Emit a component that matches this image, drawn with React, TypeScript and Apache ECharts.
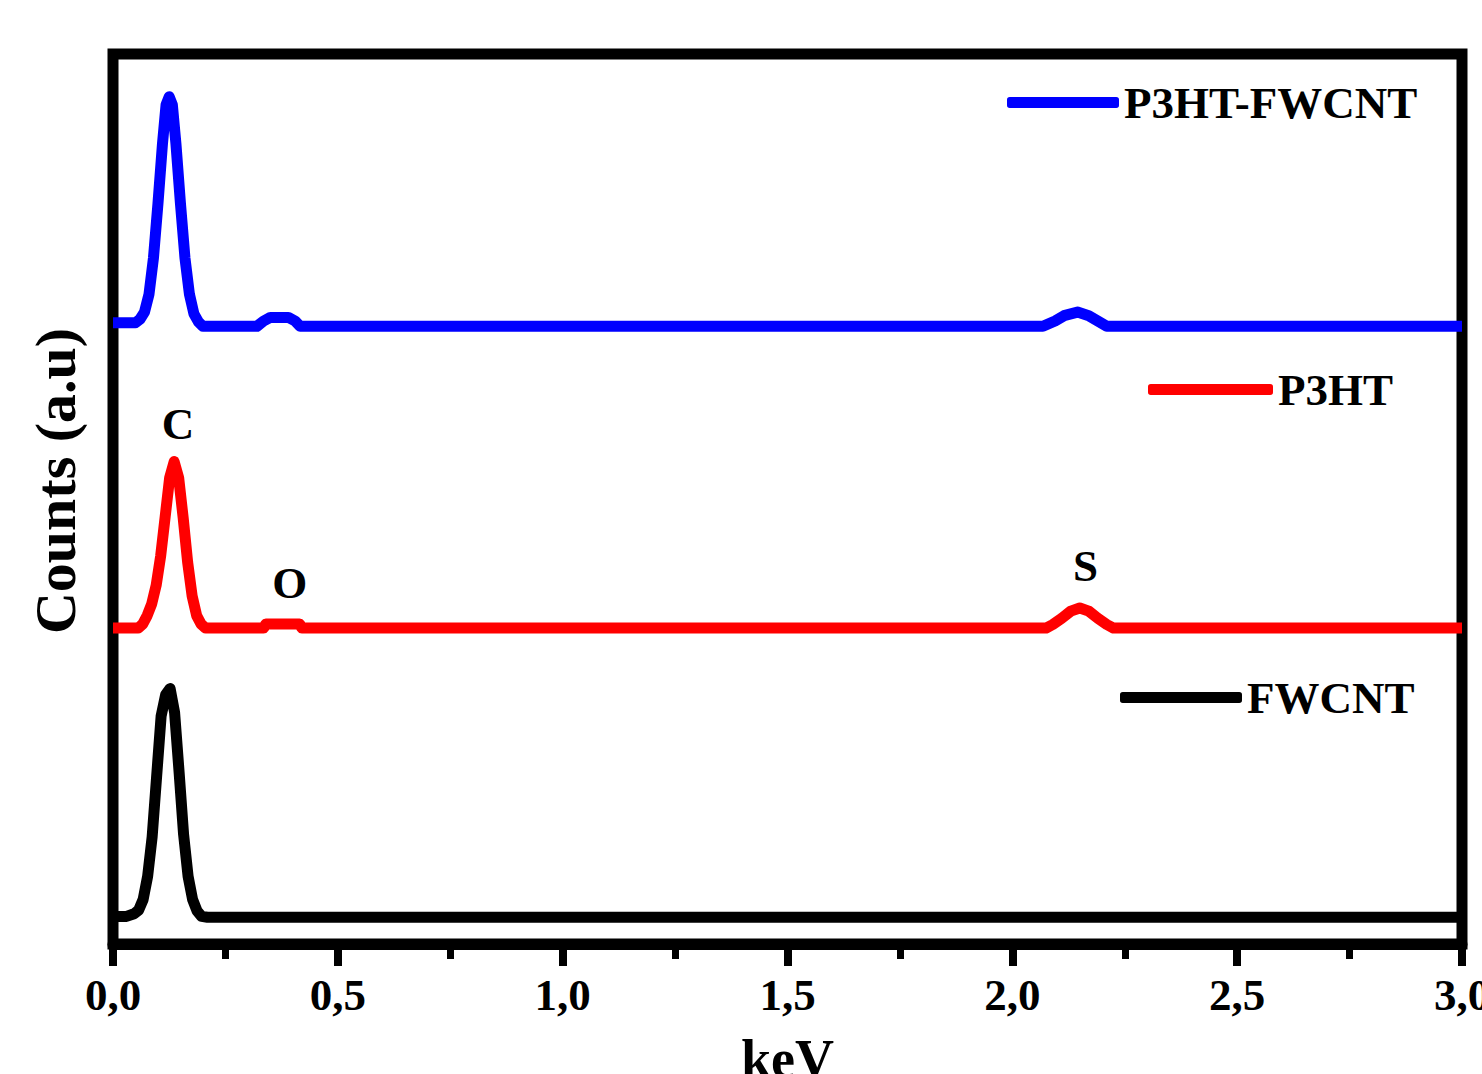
import React, { useEffect, useRef } from "react";
import * as echarts from "echarts";

// keV, offset counts (a.u.)
const fwcnt: [number, number][] = [
  [0, 3.1], [0.03, 3.1], [0.047, 3.4], [0.057, 3.8], [0.067, 5.0], [0.077, 7.6],
  [0.087, 12.0], [0.097, 18.8], [0.107, 25.6], [0.117, 28.0], [0.127, 28.7],
  [0.137, 26.0], [0.147, 19.3], [0.157, 12.3], [0.167, 7.6], [0.177, 5.0],
  [0.187, 3.7], [0.197, 3.1], [0.21, 3.0], [3.0, 3.0],
];

const p3ht: [number, number][] = [
  [0, 35.5], [0.056, 35.5], [0.066, 35.95], [0.076, 36.9], [0.086, 38.2], [0.096, 40.3],
  [0.106, 43.6], [0.116, 48.0], [0.126, 52.4], [0.136, 54.2], [0.146, 52.4],
  [0.156, 47.9], [0.166, 42.9], [0.176, 39.1], [0.186, 36.9], [0.196, 35.95],
  [0.206, 35.5], [0.335, 35.5], [0.34, 35.95], [0.415, 35.95], [0.42, 35.5],
  [2.075, 35.5], [2.09, 35.9], [2.11, 36.6], [2.13, 37.4], [2.15, 37.75],
  [2.17, 37.4], [2.19, 36.6], [2.21, 35.9], [2.225, 35.5], [3.0, 35.5],
];

const p3htFwcnt: [number, number][] = [
  [0, 69.8], [0.05, 69.8], [0.06, 70.2], [0.07, 71.0], [0.08, 73.0], [0.09, 77.1],
  [0.1, 83.2], [0.11, 89.9], [0.118, 94.3], [0.125, 95.2], [0.132, 94.3], [0.14, 89.9],
  [0.15, 83.2], [0.16, 77.1], [0.17, 73.0], [0.18, 70.8], [0.19, 69.9], [0.2, 69.4],
  [0.32, 69.4], [0.335, 70.0], [0.35, 70.4], [0.39, 70.4], [0.405, 70.0], [0.416, 69.4],
  [2.068, 69.4], [2.095, 70.0], [2.115, 70.6], [2.145, 71.0], [2.17, 70.6],
  [2.19, 70.0], [2.21, 69.4], [3.0, 69.4],
];

const peakLabels: { name: string; coord: [number, number] }[] = [
  { name: "C", coord: [0.1445, 58.4] },
  { name: "O", coord: [0.393, 40.6] },
  { name: "S", coord: [2.163, 42.5] },
];

const xTicks = { min: 0, max: 3, interval: 0.5 };
const FONT = '"Liberation Serif", "Times New Roman", serif';

export default function App() {
  const ref = useRef<HTMLDivElement>(null);
  useEffect(() => {
    if (!ref.current) return;
    const chart = echarts.init(ref.current, null, { renderer: "svg" });
    const textStyle = { fontFamily: FONT, fontWeight: "bold" as const, fontSize: 45, color: "#000" };
    const legendBase = {
      orient: "horizontal" as const,
      padding: 0,
      icon: "roundRect",
      itemHeight: 11,
      textStyle,
    };
    chart.setOption({
      animation: false,
      backgroundColor: "#fff",
      grid: {
        left: 113,
        right: 20,
        top: 54,
        bottom: 130,
        outerBoundsMode: "none",
        containLabel: false,
        show: true,
        borderWidth: 11,
        borderColor: "#000",
        backgroundColor: "transparent",
      },
      legend: [
        { ...legendBase, left: 1007, top: 80, itemWidth: 112, data: ["P3HT-FWCNT"] },
        { ...legendBase, left: 1148, top: 367, itemWidth: 125, data: ["P3HT"] },
        { ...legendBase, left: 1120, top: 675, itemWidth: 122, data: ["FWCNT"] },
      ],
      xAxis: {
        type: "value",
        min: xTicks.min,
        max: xTicks.max,
        interval: xTicks.interval,
        name: "keV",
        nameLocation: "middle",
        nameGap: 88,
        nameTextStyle: { fontFamily: FONT, fontWeight: "bold", fontSize: 54, color: "#000" },
        axisLine: { show: true, lineStyle: { color: "#000", width: 11 } },
        axisTick: { show: true, inside: false, length: 22, lineStyle: { color: "#000", width: 8 } },
        minorTick: { show: true, splitNumber: 2, length: 15, lineStyle: { color: "#000", width: 7 } },
        axisLabel: {
          margin: 28,
          fontFamily: FONT,
          fontWeight: "bold",
          fontSize: 45,
          color: "#000",
          formatter: (v: number) => v.toFixed(1).replace(".", ","),
        },
        splitLine: { show: false },
      },
      yAxis: {
        type: "value",
        min: 0,
        max: 100,
        name: "Counts (a.u)",
        nameLocation: "middle",
        nameGap: 29,
        nameTextStyle: {
          fontFamily: FONT,
          fontWeight: "bold",
          fontSize: 58,
          color: "#000",
          padding: [0, 0, 0, 36],
        },
        axisLine: { show: false },
        axisTick: { show: false },
        axisLabel: { show: false },
        splitLine: { show: false },
      },
      series: [
        {
          name: "P3HT-FWCNT",
          type: "line",
          data: p3htFwcnt,
          showSymbol: false,
          symbol: "none",
          color: "#0000ff",
          lineStyle: { width: 11, color: "#0000ff", join: "round" },
          z: 3,
        },
        {
          name: "P3HT",
          type: "line",
          data: p3ht,
          showSymbol: false,
          symbol: "none",
          color: "#ff0000",
          lineStyle: { width: 11, color: "#ff0000", join: "round" },
          z: 3,
          markPoint: {
            symbol: "circle",
            symbolSize: 0,
            silent: true,
            label: {
              show: true,
              position: "inside",
              formatter: (p: any) => p.name,
              ...textStyle,
            },
            data: peakLabels.map((d) => ({ name: d.name, coord: d.coord })),
          },
        },
        {
          name: "FWCNT",
          type: "line",
          data: fwcnt,
          showSymbol: false,
          symbol: "none",
          color: "#000000",
          lineStyle: { width: 11, color: "#000000", join: "round" },
          z: 3,
        },
      ],
    });
    return () => chart.dispose();
  }, []);
  return (
    <div
      ref={ref}
      style={{ position: "fixed", left: 0, top: 0, width: 1482, height: 1074 }}
    />
  );
}
